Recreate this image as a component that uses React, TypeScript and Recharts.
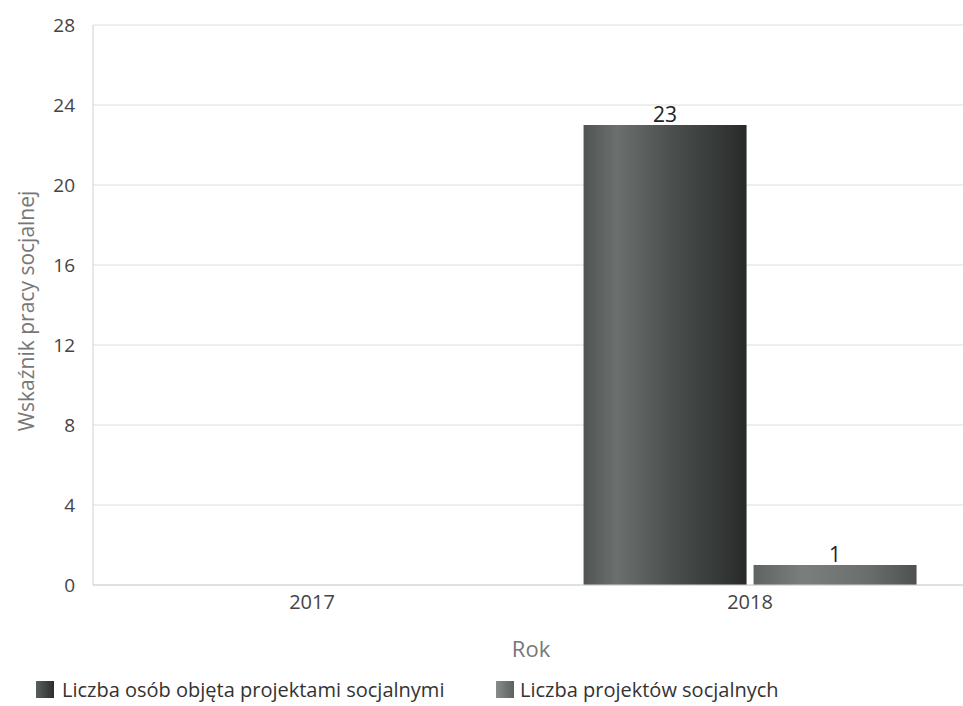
import React from 'react';
import { BarChart, Bar, XAxis, YAxis, CartesianGrid, Legend, LabelList } from 'recharts';

const years = ['2017', '2018'];
const osobyValues: (number | null)[] = [null, 23];
const projektyValues: (number | null)[] = [null, 1];
const yTicks = [0, 4, 8, 12, 16, 20, 24, 28];

const seriesNames = ['Liczba osób objęta projektami socjalnymi', 'Liczba projektów socjalnych'];

const data = years.map((y, i) => ({ year: y, osoby: osobyValues[i], projekty: projektyValues[i] }));

const FONT = '"Open Sans", "Noto Sans", sans-serif';

const LegendContent = () => (
  <div style={{ height: 41, position: 'relative', fontFamily: FONT, fontSize: 20, color: '#333' }}>
    <div style={{ position: 'absolute', left: 36, top: 11, display: 'flex', alignItems: 'center', whiteSpace: 'nowrap' }}>
      <span style={{ width: 18, height: 17, display: 'inline-block', background: 'linear-gradient(to right,#5a5f5d,#2a2e2d)', marginRight: 8 }} />
      <span>{seriesNames[0]}</span>
    </div>
    <div style={{ position: 'absolute', left: 496, top: 11, display: 'flex', alignItems: 'center', whiteSpace: 'nowrap' }}>
      <span style={{ width: 18, height: 17, display: 'inline-block', background: 'linear-gradient(to right,#888d8b,#5c615f)', marginRight: 6 }} />
      <span>{seriesNames[1]}</span>
    </div>
  </div>
);

export default function App() {
  return (
    <div style={{ position: 'absolute', left: 0, top: 0, width: 963, height: 706, overflow: 'hidden', background: '#fff' }}>
      <BarChart
        width={972}
        height={706}
        data={data}
        margin={{ top: 25, right: 3, left: 0, bottom: 0 }}
        barCategoryGap="12%"
        barGap={7}
      >
        <defs>
          <linearGradient id="gOsoby" x1="0" y1="0" x2="1" y2="0">
            <stop offset="0%" stopColor="#4f5452" />
            <stop offset="20%" stopColor="#6b706e" />
            <stop offset="55%" stopColor="#4a4f4d" />
            <stop offset="85%" stopColor="#333736" />
            <stop offset="100%" stopColor="#272a29" />
          </linearGradient>
          <linearGradient id="gProj" x1="0" y1="0" x2="1" y2="0">
            <stop offset="0%" stopColor="#5f6462" />
            <stop offset="30%" stopColor="#7a7f7d" />
            <stop offset="70%" stopColor="#6a6f6d" />
            <stop offset="100%" stopColor="#4d5250" />
          </linearGradient>
        </defs>
        <CartesianGrid vertical={false} stroke="#dedede" />
        <XAxis
          dataKey="year"
          height={80}
          tickLine={false}
          axisLine={{ stroke: '#d0d0d0' }}
          tick={{ fill: '#444', fontSize: 20, fontFamily: FONT }}
          tickMargin={4}
          label={{ value: 'Rok', position: 'insideBottom', offset: 8, fill: '#777', fontSize: 22, fontFamily: FONT }}
        />
        <YAxis
          width={93}
          domain={[0, 28]}
          ticks={yTicks}
          interval={0}
          tickLine={false}
          axisLine={{ stroke: '#d0d0d0' }}
          tick={{ fill: '#444', fontSize: 19, fontFamily: FONT }}
          tickMargin={12}
          label={{ value: 'Wskaźnik pracy socjalnej', angle: -90, position: 'center', dx: -20, dy: 6, fill: '#777', fontSize: 21, fontFamily: FONT }}
        />
        <Legend verticalAlign="bottom" align="left" height={41} content={<LegendContent />} />
        <Bar dataKey="osoby" name={seriesNames[0]} fill="url(#gOsoby)" isAnimationActive={false}>
          <LabelList dataKey="osoby" position="top" offset={3} fill="#222" fontSize={21} fontFamily={FONT} />
        </Bar>
        <Bar dataKey="projekty" name={seriesNames[1]} fill="url(#gProj)" isAnimationActive={false}>
          <LabelList dataKey="projekty" position="top" offset={3} fill="#222" fontSize={21} fontFamily={FONT} />
        </Bar>
      </BarChart>
    </div>
  );
}
